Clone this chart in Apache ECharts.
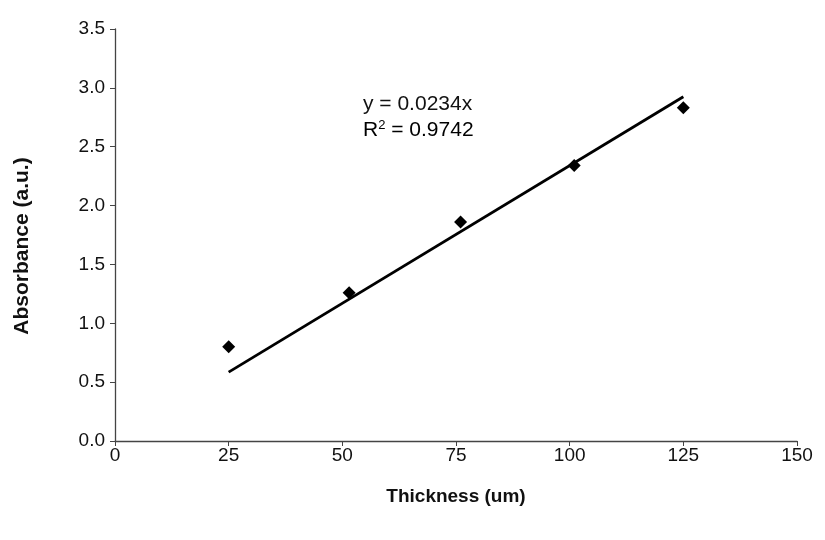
<!DOCTYPE html>
<html><head><meta charset="utf-8">
<script src="https://cdn.jsdelivr.net/npm/echarts@6/dist/echarts.min.js"></script>
<style>html,body{margin:0;padding:0;background:#fff}#c{width:825px;height:540px}</style>
</head><body><div id="c"></div>
<script>
const thickness = [25, 51.5, 76, 101, 125];
const absorbance = [0.80, 1.26, 1.86, 2.34, 2.83];
const slope = 0.0234;
const fitX = [25, 125];
const xTicks = [0, 25, 50, 75, 100, 125, 150];
const yTicks = [0, 0.5, 1, 1.5, 2, 2.5, 3, 3.5];

const chart = echarts.init(document.getElementById('c'));
const font = 'Liberation Sans, Arial, sans-serif';
chart.setOption({
  animation: false,
  backgroundColor: '#fff',
  grid: {left: 115, right: 28, top: 29, bottom: 99},
  xAxis: {
    type: 'value', min: 0, max: 150, interval: 25,
    name: 'Thickness (um)', nameLocation: 'middle', nameGap: 46,
    nameTextStyle: {fontFamily: font, fontSize: 19, fontWeight: 'bold', color: '#111'},
    axisLine: {lineStyle: {color: '#444', width: 1.3}},
    axisTick: {show: true, length: 5, inside: false, lineStyle: {color: '#444'}},
    axisLabel: {fontFamily: font, fontSize: 19, color: '#111', margin: 5},
    splitLine: {show: false}
  },
  yAxis: {
    type: 'value', min: 0, max: 3.5, interval: 0.5,
    name: 'Absorbance (a.u.)', nameLocation: 'middle', nameGap: 82,
    nameTextStyle: {fontFamily: font, fontSize: 21, fontWeight: 'bold', color: '#111', padding: [0, 22, 0, 0]},
    axisLine: {show: true, lineStyle: {color: '#444', width: 1.3}},
    axisTick: {show: true, length: 5, lineStyle: {color: '#444'}},
    axisLabel: {fontFamily: font, fontSize: 19, color: '#111', margin: 10,
      formatter: v => v.toFixed(1)},
    splitLine: {show: false}
  },
  series: [
    {
      type: 'line', data: fitX.map(x => [x, slope * x]), symbol: 'none',
      lineStyle: {color: '#000', width: 2.8}, z: 2
    },
    {
      type: 'scatter', data: thickness.map((x, i) => [x, absorbance[i]]),
      symbol: 'diamond', symbolSize: 13, itemStyle: {color: '#000', opacity: 1}, z: 3
    }
  ],
  graphic: [
    {type: 'text', left: 363, top: 94, style: {text: 'y = 0.0234x', font: '21px ' + font, fill: '#111'}},
    {type: 'text', left: 363, top: 119, style: {
      text: '{r|R}{s|2}{r| = 0.9742}',
      rich: {r: {fontFamily: font, fontSize: 21, color: '#111', verticalAlign: 'bottom'},
             s: {fontFamily: font, fontSize: 13, color: '#111', verticalAlign: 'top', padding: [0,0,9,0]}}
    }}
  ]
});
</script></body></html>
